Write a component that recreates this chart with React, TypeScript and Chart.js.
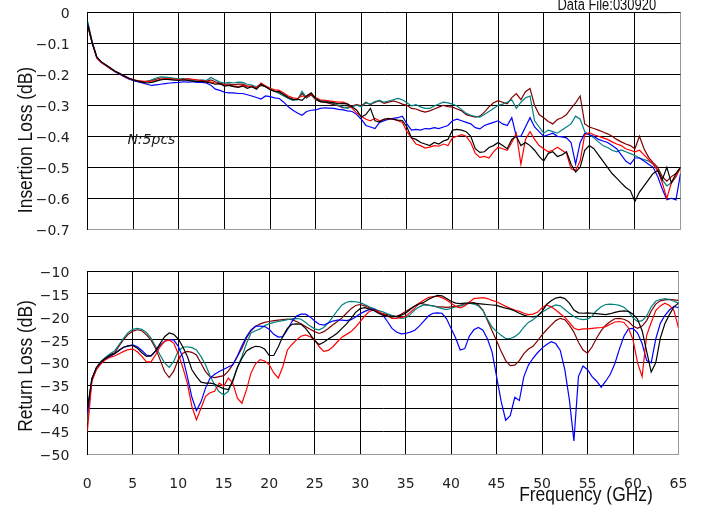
import { useEffect, useRef } from "react"
import { Chart, registerables } from "chart.js"

Chart.register(...registerables)

// sampling grid of the measurement, GHz
const FREQ_GHZ = [
  0, 0.5, 1, 1.5, 2, 2.5, 3, 3.5, 4, 4.5,
  5, 5.5, 6, 6.5, 7, 7.5, 8, 8.5, 9, 9.5,
  10, 10.5, 11, 11.5, 12, 12.5, 13, 13.5, 14, 14.5,
  15, 15.5, 16, 16.5, 17, 17.5, 18, 18.5, 19, 19.5,
  20, 20.5, 21, 21.5, 22, 22.5, 23, 23.5, 24, 24.5,
  25, 25.5, 26, 26.5, 27, 27.5, 28, 28.5, 29, 29.5,
  30, 30.5, 31, 31.5, 32, 32.5, 33, 33.5, 34, 34.5,
  35, 35.5, 36, 36.5, 37, 37.5, 38, 38.5, 39, 39.5,
  40, 40.5, 41, 41.5, 42, 42.5, 43, 43.5, 44, 44.5,
  45, 45.5, 46, 46.5, 47, 47.5, 48, 48.5, 49, 49.5,
  50, 50.5, 51, 51.5, 52, 52.5, 53, 53.5, 54, 54.5,
  55, 55.5, 56, 56.5, 57, 57.5, 58, 58.5, 59, 59.5,
  60, 60.5, 61, 61.5, 62, 62.5, 63, 63.5, 64, 64.5,
  65,
]

const X_TICKS = [0, 5, 10, 15, 20, 25, 30, 35, 40, 45, 50, 55, 60, 65]
const IL_TICKS = [0, -0.1, -0.2, -0.3, -0.4, -0.5, -0.6, -0.7]
const RL_TICKS = [-10, -15, -20, -25, -30, -35, -40, -45, -50]

const SAMPLE_COLORS = ["#000000", "#ff0000", "#0000ff", "#008080", "#800000"]

// insertion loss, dB
const IL_BLACK = [
  -0.04, -0.1, -0.145, -0.16, -0.17, -0.18, -0.19, -0.197, -0.205, -0.212,
  -0.218, -0.222, -0.225, -0.228, -0.226, -0.222, -0.218, -0.216, -0.217, -0.219,
  -0.22, -0.218, -0.22, -0.222, -0.224, -0.222, -0.225, -0.228, -0.232, -0.23,
  -0.238, -0.236, -0.24, -0.242, -0.238, -0.245, -0.24, -0.248, -0.232, -0.24,
  -0.25, -0.255, -0.256, -0.265, -0.275, -0.282, -0.28, -0.284, -0.27, -0.26,
  -0.278, -0.288, -0.29, -0.29, -0.292, -0.295, -0.294, -0.296, -0.305, -0.316,
  -0.338, -0.33, -0.31, -0.35, -0.354, -0.345, -0.343, -0.345, -0.348, -0.349,
  -0.37, -0.405, -0.41, -0.42, -0.425, -0.43, -0.42, -0.425, -0.415, -0.41,
  -0.38, -0.378, -0.38, -0.385, -0.4, -0.44, -0.452, -0.45, -0.436, -0.43,
  -0.42, -0.43, -0.44, -0.41, -0.4, -0.43, -0.42, -0.43, -0.445, -0.465,
  -0.48, -0.455, -0.45, -0.465, -0.46, -0.45, -0.49, -0.515, -0.5, -0.445,
  -0.43, -0.44, -0.46, -0.48, -0.5, -0.52, -0.535, -0.55, -0.565, -0.575,
  -0.61, -0.58, -0.56, -0.54, -0.52, -0.51, -0.54, -0.5, -0.55, -0.52,
  -0.5,
]
const IL_RED = [
  -0.045, -0.1, -0.148, -0.162, -0.172, -0.182, -0.19, -0.198, -0.206, -0.213,
  -0.218, -0.22, -0.222, -0.224, -0.222, -0.22, -0.216, -0.214, -0.215, -0.216,
  -0.218, -0.216, -0.214, -0.216, -0.218, -0.22, -0.222, -0.225, -0.228, -0.232,
  -0.234, -0.236, -0.238, -0.24, -0.236, -0.24, -0.238, -0.244, -0.228, -0.238,
  -0.245, -0.25, -0.252, -0.26, -0.27, -0.276, -0.278, -0.27, -0.272, -0.265,
  -0.275, -0.282, -0.284, -0.286, -0.288, -0.29, -0.29, -0.295, -0.31, -0.325,
  -0.335, -0.345, -0.35, -0.342, -0.35, -0.345, -0.342, -0.345, -0.35, -0.355,
  -0.385, -0.405, -0.425, -0.43, -0.438, -0.435, -0.43, -0.432, -0.425, -0.43,
  -0.405, -0.4, -0.395, -0.4, -0.42, -0.455, -0.468, -0.465, -0.47, -0.45,
  -0.435, -0.44, -0.445, -0.42, -0.39, -0.49, -0.41, -0.385, -0.41, -0.43,
  -0.44, -0.45, -0.445, -0.435, -0.445, -0.455, -0.505, -0.51, -0.48, -0.395,
  -0.388, -0.395, -0.4, -0.405, -0.41, -0.418, -0.425, -0.43, -0.44, -0.445,
  -0.45, -0.445, -0.46, -0.475, -0.49, -0.51, -0.55, -0.6, -0.55, -0.53,
  -0.5,
]
const IL_BLUE = [
  -0.04, -0.1, -0.145, -0.162, -0.172, -0.182, -0.192, -0.2, -0.208, -0.215,
  -0.22, -0.224, -0.228, -0.232, -0.236, -0.234, -0.232, -0.23, -0.228, -0.227,
  -0.226, -0.224, -0.225, -0.224, -0.226, -0.226, -0.228, -0.235, -0.248, -0.252,
  -0.258, -0.26, -0.26, -0.262, -0.262, -0.266, -0.27, -0.275, -0.28, -0.27,
  -0.272, -0.276, -0.278, -0.29, -0.305, -0.316, -0.325, -0.332, -0.32, -0.316,
  -0.315, -0.31, -0.308, -0.309, -0.31, -0.313, -0.315, -0.318, -0.32, -0.33,
  -0.345, -0.365, -0.37, -0.375, -0.355, -0.35, -0.345, -0.342, -0.34, -0.335,
  -0.36, -0.38, -0.378, -0.38, -0.375, -0.376, -0.372, -0.375, -0.37, -0.365,
  -0.35, -0.345, -0.35, -0.355, -0.36, -0.372, -0.376, -0.365, -0.36, -0.355,
  -0.35, -0.36, -0.365, -0.34, -0.4, -0.4, -0.37, -0.34, -0.37, -0.385,
  -0.4, -0.395, -0.39, -0.4, -0.402, -0.405, -0.42, -0.49, -0.42, -0.39,
  -0.395, -0.4, -0.41, -0.415, -0.42, -0.43, -0.44, -0.46, -0.48, -0.49,
  -0.47, -0.47, -0.48, -0.49, -0.5, -0.53, -0.57, -0.605, -0.6, -0.605,
  -0.52,
]
const IL_TEAL = [
  -0.03, -0.095, -0.145, -0.16, -0.17, -0.18, -0.19, -0.198, -0.206, -0.214,
  -0.22, -0.224, -0.226, -0.224, -0.218, -0.212, -0.208, -0.209, -0.211, -0.213,
  -0.215, -0.214, -0.216, -0.218, -0.22, -0.218, -0.22, -0.21, -0.218, -0.225,
  -0.228, -0.226, -0.228, -0.225, -0.226, -0.232, -0.235, -0.24, -0.232, -0.238,
  -0.246, -0.254, -0.262, -0.27, -0.278, -0.284, -0.282, -0.255, -0.275, -0.262,
  -0.28, -0.284, -0.286, -0.29, -0.295, -0.3, -0.306, -0.31, -0.304, -0.3,
  -0.305, -0.292, -0.296, -0.288, -0.284, -0.29, -0.286, -0.282, -0.278, -0.282,
  -0.292, -0.302, -0.298, -0.305, -0.31, -0.31, -0.302, -0.296, -0.29, -0.292,
  -0.296, -0.302, -0.314, -0.326, -0.332, -0.336, -0.338, -0.33, -0.32, -0.31,
  -0.3, -0.296, -0.29, -0.282, -0.31, -0.29, -0.276, -0.27, -0.35, -0.37,
  -0.39, -0.38, -0.385, -0.39, -0.38, -0.37, -0.36, -0.335, -0.345, -0.385,
  -0.395, -0.405, -0.418, -0.43, -0.436, -0.445, -0.45, -0.444, -0.45, -0.456,
  -0.462, -0.47, -0.475, -0.48, -0.49, -0.51, -0.54, -0.56, -0.55, -0.53,
  -0.5,
]
const IL_BROWN = [
  -0.035, -0.098, -0.146, -0.161, -0.171, -0.181, -0.191, -0.198, -0.206, -0.213,
  -0.219, -0.222, -0.224, -0.222, -0.22, -0.216, -0.212, -0.212, -0.214, -0.215,
  -0.217, -0.216, -0.218, -0.22, -0.221, -0.22, -0.223, -0.218, -0.224, -0.228,
  -0.232, -0.232, -0.234, -0.232, -0.232, -0.238, -0.24, -0.244, -0.236, -0.24,
  -0.248, -0.255, -0.26, -0.268, -0.276, -0.28, -0.282, -0.262, -0.276, -0.266,
  -0.282, -0.288, -0.29, -0.294, -0.298, -0.302, -0.308, -0.306, -0.302, -0.298,
  -0.302, -0.29, -0.298, -0.29, -0.286, -0.294, -0.29, -0.286, -0.29, -0.296,
  -0.3, -0.31, -0.312, -0.318, -0.322, -0.318, -0.312, -0.306, -0.3, -0.304,
  -0.306, -0.312, -0.318, -0.33, -0.334, -0.338, -0.335, -0.322, -0.305, -0.292,
  -0.285, -0.29, -0.295, -0.275, -0.262, -0.282, -0.256, -0.246, -0.3, -0.33,
  -0.34, -0.352, -0.36, -0.346, -0.34, -0.33, -0.31, -0.292, -0.27, -0.36,
  -0.37, -0.375, -0.38, -0.386, -0.392, -0.4, -0.41, -0.418, -0.425, -0.43,
  -0.44, -0.4, -0.44, -0.468, -0.485, -0.5, -0.53, -0.545, -0.53, -0.52,
  -0.5,
]

// return loss, dB
const RL_BLACK = [
  -40, -33.5, -31, -29.8, -29, -28.4, -28, -27.3, -26.6, -26.3,
  -26.2, -26.8, -27.8, -28.6, -28.5, -27.4, -25.8, -24.3, -23.5, -23.8,
  -24.8, -26.5, -28.6, -31.5, -33, -34.2, -34.4, -34.4, -34.6, -35.2,
  -35.6, -35.8, -34, -31, -29, -27.4, -26.8, -26.4, -26.5, -27,
  -28.4, -28.4, -26.5, -24.2, -22.5, -21.6, -21.5, -21.6, -22.5, -23.8,
  -25.2, -26, -25.5, -24.8, -24.2, -23.5, -22.5, -21.5, -20.3, -19,
  -18.2, -18, -18.3, -18.6, -19.2, -19.6, -19.8, -20, -19.9, -19.6,
  -19.2, -18.4, -17.6, -17.2, -16.8, -16.2, -15.7, -15.3, -15.4, -16,
  -16.6, -17, -17.1, -17, -17, -17, -17.1, -17.2, -17.3, -17.4,
  -17.5, -17.8, -18.1, -18.3, -18.7, -19.2, -19.6, -19.9, -20, -19.8,
  -18.8, -17.3, -16.5, -15.9, -15.7, -16, -17, -18.5, -19.1, -19.2,
  -19.1, -19.2, -19.3, -19.4, -19.5, -19.3, -19, -18.8, -18.7, -18.8,
  -19.4, -20.5, -23, -27.5, -32, -30, -24.6, -21.5, -19.5, -17.8,
  -17,
]
const RL_RED = [
  -45, -34, -31.5, -30.2, -29.3, -28.8, -28.5, -28, -27.5, -27.1,
  -27, -27.6, -28.6, -29.8, -29.8, -28.3, -26.5, -25.3, -25, -25.7,
  -28, -31, -34.4, -39.5, -42.4, -39.9, -37.3, -36.5, -36.2, -34.4,
  -35.1, -33.3, -34.4, -37.7, -38.8, -35.9, -32.2, -30.2, -29.3, -29.6,
  -30.4, -32.2, -33.3, -30.8, -27.2, -26, -25, -24.2, -23.9, -24.3,
  -25, -26.5, -27.5, -27.3, -26.5, -25.4, -24.4, -23.8, -23.2, -22.2,
  -21, -19.8, -18.8, -18.5, -18.8, -19.4, -19.8, -20.3, -20.3, -20.1,
  -19.9, -19, -18.1, -17, -16.3, -15.8, -15.6, -15.5, -15.8, -16.3,
  -17, -17.7, -18, -17.6, -16.8, -16, -15.9, -15.8, -16, -16.4,
  -16.7, -17.2, -17.7, -18.1, -18.5, -18.8, -19.2, -19.5, -19.4, -19,
  -18, -17.4, -17.8, -18.5, -19.3, -20.1, -21.2, -22.4, -22.8, -22.6,
  -22.6, -22.5, -22.4, -22.3, -22.1, -21.6, -21.1, -21, -21.2, -22.4,
  -25, -30, -33, -24, -21.2, -18.6, -17.6, -17, -17.5, -18.6,
  -22.4,
]
const RL_BLUE = [
  -41, -33.5, -31.2, -30, -29.2, -28.6, -28, -27.2, -26.6, -26.3,
  -26.1, -26.5, -27.3, -28.3, -28.5, -27.5, -26.2, -25.3, -25, -25,
  -26.4, -28.8, -33, -37.5, -40.4, -38.5, -35.5, -33.3, -32.5, -31.9,
  -31.4, -30.9, -30.4, -28.5, -26.3, -24.3, -22.8, -22, -22, -22.1,
  -22.7, -23.8, -24.4, -24.3, -22.8, -21, -19.8, -19.4, -19.4, -20,
  -20.9, -21.6, -21.8, -21.3, -20.9, -20.7, -20.7, -20.8, -20.6, -20,
  -19.3, -18.8, -18.4, -18.3, -18.8, -19.6, -21, -22.5, -23.3, -23.7,
  -23.6, -23.3, -22.9, -22, -20.9, -19.8, -19.2, -19.1, -19.2, -20.4,
  -22.5, -24.6, -27.2, -26.9, -24.2, -22.8, -22.3, -22.9, -24.8, -27.6,
  -33, -38.4, -42.5, -41.5, -37.5, -38.2, -33, -30.5, -29, -27.8,
  -26.8, -26, -25.4, -25.8, -27.3, -31.5, -38, -47, -33, -30.7,
  -31.5, -33, -34, -35.3, -34, -32.5, -30.2, -27, -24.2, -22.6,
  -22.5, -23.5, -25.8, -29.5, -30, -24.8, -21.4, -19.7, -18.5, -17.7,
  -18,
]
const RL_TEAL = [
  -43, -33.5, -31, -29.7, -28.8, -28, -27.4, -26, -24.6, -23.4,
  -22.7, -22.5, -22.7, -23.4, -24.6, -26.4, -28.3, -30, -31, -29.7,
  -27.4, -26.6, -26.5, -26.7, -27.2, -28.6, -30.4, -32.8, -34.8, -36.3,
  -37, -36.2, -33.7, -31, -28.6, -25.8, -23.5, -23, -22.6, -21.9,
  -21.5, -21.2, -21, -20.8, -20.6, -20.4, -20.3, -20.5, -21.2, -22,
  -22.6, -22.8, -22.3, -21.3, -20, -18.6, -17.4, -16.8, -16.6, -16.7,
  -16.9, -17.3, -17.8, -18.2, -18.6, -18.9, -19.3, -19.7, -20, -20.3,
  -20.2, -19.5, -18.5, -17.8, -17.4, -17.5, -17.6, -17.9, -18.2, -18.4,
  -18.1, -17.8, -17.6, -17.3, -17, -17.2, -17.6, -18.6, -20.5, -22.2,
  -23.2, -24, -24.7, -24.7, -24.3, -23.5, -22.2, -21.2, -20.6, -19.8,
  -19, -18.4, -17.8, -17.4, -17.6, -18.4, -19.2, -19.9, -20.4, -20.6,
  -20.5, -19.8, -18.6, -17.8, -17.3, -17.2, -17.3, -17.5, -17.9, -18.8,
  -20.2, -21, -20.8, -19.8, -17.8, -16.6, -16.2, -16, -16.2, -16.6,
  -17,
]
const RL_BROWN = [
  -42, -33.8, -31.2, -29.8, -28.9, -28.2, -27.8, -26.3, -24.9, -23.8,
  -23.1, -22.8, -23, -23.9, -25, -26.8, -29.3, -31.9, -33.2, -31.8,
  -29.3, -27.9, -27.5, -27.7, -28.3, -30.1, -31.9, -33, -33.2, -33,
  -32.8, -31.8, -30.4, -28.6, -26.8, -24.6, -23, -22.1, -21.5, -21.2,
  -21, -20.8, -20.7, -20.6, -20.5, -20.6, -21, -21.5, -22.1, -22.7,
  -23.2, -23.6, -23.2, -22.5, -21.7, -21, -20.2, -19.2, -18.2, -17.5,
  -17.3, -17.6, -18, -18.5, -19, -19.3, -19.5, -19.7, -19.9, -19.4,
  -18.8, -18.2, -17.6, -17, -17.2, -17.4, -17.6, -17.8, -17.8, -17.9,
  -17.8, -17.7, -17.5, -17.2, -17, -16.9, -17.4, -18.5, -20.8, -23,
  -25.2, -27.5, -29.5, -30.6, -30.5, -29.5, -28, -27, -26.4, -25.2,
  -23.9, -22.8, -21.8, -20.8, -20.3, -20.6, -21.8, -23.3, -25.5, -27.2,
  -27.9, -26.5, -24.6, -23, -21.8, -21, -20.4, -20.3, -20.5, -21,
  -22, -22.5, -22, -20.8, -18.7, -17.2, -16.5, -16.3, -16.2, -16.3,
  -16.4,
]

const IL_SERIES = [IL_BLACK, IL_RED, IL_BLUE, IL_TEAL, IL_BROWN]
const RL_SERIES = [RL_BLACK, RL_RED, RL_BLUE, RL_TEAL, RL_BROWN]

const GRID = "#000000"
const EDGE = "#9a9a9a"
const TICK_FONT = { family: "'DejaVu Sans', sans-serif", size: 14 }
const minus = (s: string) => s.replace("-", "\u2212")

interface PanelProps {
  series: number[][]
  yTicks: number[]
  yFormat: (v: number) => string
  showX: boolean
  top: number
  height: number
  pad: { top: number; right: number }
  axisWidth: number
  xHeight: number
}

function Panel({ series, yTicks, yFormat, showX, top, height, pad, axisWidth, xHeight }: PanelProps) {
  const canvasRef = useRef<HTMLCanvasElement>(null)

  useEffect(() => {
    if (!canvasRef.current) return
    const yMin = Math.min(...yTicks)
    const yMax = Math.max(...yTicks)
    const chart = new Chart(canvasRef.current, {
      type: "line",
      data: {
        datasets: series.map((vals, i) => ({
          data: FREQ_GHZ.map((f, j) => ({ x: f, y: vals[j] })),
          borderColor: SAMPLE_COLORS[i],
          borderWidth: 1.2,
          pointRadius: 0,
          tension: 0,
          fill: false,
        })),
      },
      options: {
        responsive: false,
        animation: false,
        events: [],
        layout: { padding: { top: pad.top, right: pad.right, left: 0, bottom: 0 } },
        plugins: { legend: { display: false }, tooltip: { enabled: false } },
        scales: {
          x: {
            type: "linear",
            min: 0,
            max: 65,
            afterBuildTicks: (s: any) => {
              s.ticks = X_TICKS.map((v) => ({ value: v }))
            },
            afterFit: (s: any) => {
              s.height = xHeight
              s.paddingLeft = 0
              s.paddingRight = 0
            },
            grid: {
              color: (c: any) => (c.tick && c.tick.value === 65 ? EDGE : GRID),
              lineWidth: 1,
              drawTicks: false,
            },
            border: { color: EDGE, width: 1 },
            ticks: {
              display: showX,
              font: TICK_FONT,
              color: "#222",
              padding: 21,
              maxRotation: 0,
              autoSkip: false,
            },
          },
          y: {
            type: "linear",
            min: yMin,
            max: yMax,
            afterBuildTicks: (s: any) => {
              s.ticks = yTicks.map((v) => ({ value: v }))
            },
            afterFit: (s: any) => {
              s.width = axisWidth
              s.paddingTop = 0
              s.paddingBottom = 0
            },
            grid: {
              color: (c: any) => (c.tick && c.tick.value === yMin ? EDGE : GRID),
              lineWidth: 1,
              drawTicks: false,
            },
            border: { color: GRID, width: 1 },
            ticks: {
              font: TICK_FONT,
              color: "#222",
              padding: 18,
              labelOffset: 2,
              autoSkip: false,
              callback: (v: any) => yFormat(Number(v)),
            },
          },
        },
      },
    } as any)
    return () => chart.destroy()
  }, [])

  return (
    <canvas
      ref={canvasRef}
      width={704}
      height={height}
      style={{ position: "absolute", left: 0, top, width: 704, height }}
    />
  )
}

const titleStyle: React.CSSProperties = {
  position: "absolute",
  fontFamily: "'Liberation Sans', Arial, sans-serif",
  fontSize: 21,
  lineHeight: "21px",
  color: "#111",
  whiteSpace: "nowrap",
}

export default function App() {
  return (
    <div style={{ position: "absolute", left: 0, top: 0, width: 704, height: 513, overflow: "hidden", background: "#fff" }}>
      <Panel
        series={IL_SERIES}
        yTicks={IL_TICKS}
        yFormat={(v) => (v === 0 ? "0" : minus(v.toFixed(1)))}
        showX={false}
        top={0}
        height={240}
        pad={{ top: 12.3, right: 23.5 }}
        axisWidth={87.7}
        xHeight={10.7}
      />
      <Panel
        series={RL_SERIES}
        yTicks={RL_TICKS}
        yFormat={(v) => minus(String(v))}
        showX={true}
        top={250}
        height={263}
        pad={{ top: 21, right: 25.5 }}
        axisWidth={87.3}
        xHeight={58.3}
      />
      <div style={{ ...titleStyle, left: 23.7, top: 140, transform: "translate(-50%, -50%) rotate(-90deg) scaleX(0.83)" }}>
        Insertion Loss (dB)
      </div>
      <div style={{ ...titleStyle, left: 24, top: 366, transform: "translate(-50%, -50%) rotate(-90deg) scaleX(0.83)" }}>
        Return Loss (dB)
      </div>
      <div style={{ ...titleStyle, left: 585.5, top: 492.7, transform: "translate(-50%, -50%) scaleX(0.83)" }}>
        Frequency (GHz)
      </div>
      <div
        style={{
          ...titleStyle,
          fontSize: 15.6,
          lineHeight: "15.6px",
          left: 613.5,
          top: 4.6,
          transform: "translate(-50%, -50%) scaleX(0.83)",
        }}
      >
        Data File:030920__
      </div>
      <div
        style={{
          position: "absolute",
          left: 151.4,
          top: 139.2,
          transform: "translate(-50%, -50%)",
          fontFamily: "'DejaVu Sans', sans-serif",
          fontStyle: "italic",
          fontSize: 14,
          lineHeight: "14px",
          color: "#222",
          whiteSpace: "nowrap",
        }}
      >
        N:5pcs
      </div>
    </div>
  )
}
